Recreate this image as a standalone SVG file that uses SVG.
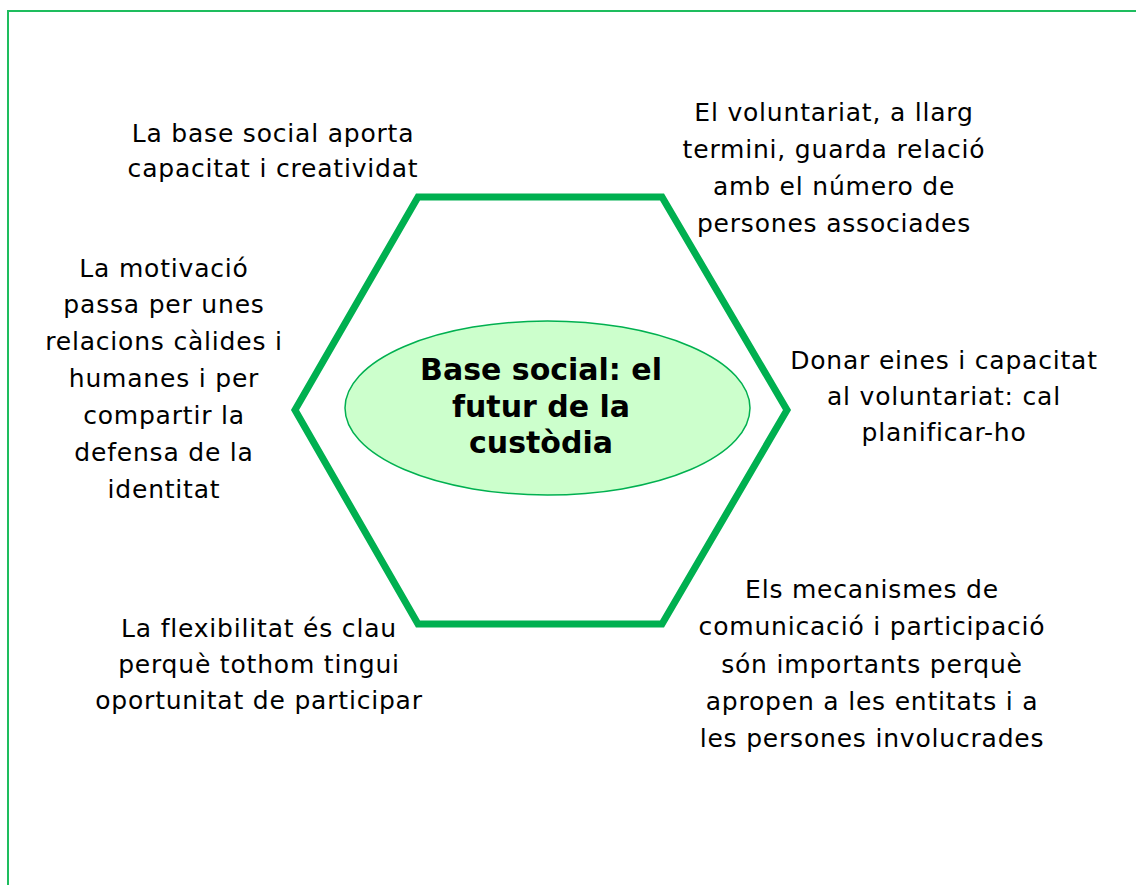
<svg xmlns="http://www.w3.org/2000/svg" width="1136" height="885" viewBox="0 0 1136 885">
<style>
.t{font-family:"DejaVu Sans",Verdana,sans-serif;font-size:25px;letter-spacing:0.8px;fill:#000;text-anchor:middle}
.c{font-family:"DejaVu Sans",Verdana,sans-serif;font-size:30px;font-weight:bold;fill:#000;text-anchor:middle}
</style>
<rect x="8" y="11" width="1140" height="900" fill="#fff" stroke="#1ebd5e" stroke-width="2"/>
<g id="hexagon">
<polygon points="418,197 662,197 787,410 662,624 418,624 295,410" fill="none" stroke="#00b050" stroke-width="7" stroke-linejoin="miter"/>
</g>
<g id="center">
<ellipse cx="547.5" cy="408" rx="202.5" ry="87" fill="#ccffcc" stroke="#00b050" stroke-width="1.5"/>
<text class="c" x="541" y="380">Base social: el</text>
<text class="c" x="541" y="417">futur de la</text>
<text class="c" x="541" y="453">custòdia</text>
</g>
<g id="connectors"></g>
<g id="n1">
<text class="t" x="273" y="142">La base social aporta</text>
<text class="t" x="273" y="177">capacitat i creatividat</text>
</g>
<g id="n2">
<text class="t" x="834" y="121">El voluntariat, a llarg</text>
<text class="t" x="834" y="158">termini, guarda relació</text>
<text class="t" x="834" y="195">amb el número de</text>
<text class="t" x="834" y="232">persones associades</text>
</g>
<g id="n3">
<text class="t" x="164" y="277">La motivació</text>
<text class="t" x="164" y="313">passa per unes</text>
<text class="t" x="164" y="350">relacions càlides i</text>
<text class="t" x="164" y="387">humanes i per</text>
<text class="t" x="164" y="424">compartir la</text>
<text class="t" x="164" y="461">defensa de la</text>
<text class="t" x="164" y="498">identitat</text>
</g>
<g id="n4">
<text class="t" x="944" y="369">Donar eines i capacitat</text>
<text class="t" x="944" y="405">al voluntariat: cal</text>
<text class="t" x="944" y="441">planificar-ho</text>
</g>
<g id="n5">
<text class="t" x="872" y="598">Els mecanismes de</text>
<text class="t" x="872" y="635">comunicació i participació</text>
<text class="t" x="872" y="673">són importants perquè</text>
<text class="t" x="872" y="710">apropen a les entitats i a</text>
<text class="t" x="872" y="747">les persones involucrades</text>
</g>
<g id="n6">
<text class="t" x="259" y="637">La flexibilitat és clau</text>
<text class="t" x="259" y="673">perquè tothom tingui</text>
<text class="t" x="259" y="709">oportunitat de participar</text>
</g>
</svg>
